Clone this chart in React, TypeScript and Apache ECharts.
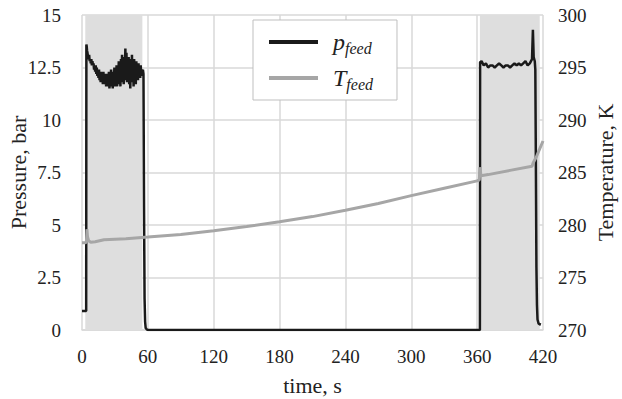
import React, { useEffect, useRef } from "react";
import * as echarts from "echarts";

// feed pressure (bar) as [time s, value] pairs, first feed step
const pressureFeed1: number[][] = [
  [0, 0.9], [3.8, 0.9], [4.0, 13.6], [4.3, 13.5], [4.6, 13.3],
  [5, 13.2], [5.5, 13.0], [6, 12.9], [6.5, 13.1], [7, 12.8], [7.5, 12.9], [8, 12.7], [8.5, 12.9],
  [9, 12.6], [9.5, 12.8], [10, 12.6], [10.5, 12.7], [11, 12.4], [11.5, 12.6], [12, 12.3], [12.5, 12.6],
  [13, 12.2], [13.5, 12.5], [14, 12.1], [14.5, 12.4], [15, 12.0], [15.5, 12.4], [16, 11.9], [16.5, 12.3],
  [17, 11.8], [17.5, 12.3], [18, 11.8], [18.5, 12.2], [19, 11.7], [19.5, 12.3], [20, 11.8], [20.5, 12.2],
  [21, 11.7], [21.5, 12.1], [22, 11.6], [22.5, 12.2], [23, 11.7], [23.5, 12.0], [24, 11.6], [24.5, 12.3],
  [25, 11.5], [25.5, 12.1], [26, 11.7], [26.5, 12.4], [27, 11.6], [27.5, 12.2], [28, 11.5], [28.5, 12.3],
  [29, 11.7], [29.5, 12.5], [30, 11.6], [30.5, 12.4], [31, 11.8], [31.5, 12.6], [32, 11.6], [32.5, 12.5],
  [33, 11.7], [33.5, 12.8], [34, 11.8], [34.5, 12.6], [35, 11.6], [35.5, 12.9], [36, 11.9], [36.5, 13.1],
  [37, 11.8], [37.5, 12.7], [38, 11.7], [38.5, 13.0], [39, 12.0], [39.5, 13.4], [40, 11.9], [40.5, 13.2],
  [41, 11.8], [41.5, 12.8], [42, 12.0], [42.5, 13.0], [43, 11.7], [43.5, 12.6], [44, 11.5], [44.5, 12.9],
  [45, 11.8], [45.5, 13.1], [46, 11.9], [46.5, 12.7], [47, 11.6], [47.5, 12.9], [48, 11.9], [48.5, 12.6],
  [49, 11.7], [49.5, 12.8], [50, 12.0], [50.5, 12.5], [51, 11.9], [51.5, 12.7], [52, 12.1], [52.5, 12.5],
  [53, 12.0], [53.5, 12.6], [54, 12.1], [54.5, 12.4], [55, 12.3], [55.5, 12.4], [56, 12.2],
];

// pressure drop and purge period
const pressurePurge: number[][] = [
  [56.5, 6.0], [57, 1.5], [57.5, 0.4], [58, 0.1], [59, 0.03], [60, 0], [362.5, 0],
];

// second feed step and depressurisation
const pressureFeed2: number[][] = [
  [362.7, 12.75], [364, 12.8], [366, 12.6], [368, 12.7], [370, 12.5], [372, 12.6], [374, 12.6],
  [376, 12.5], [378, 12.6], [380, 12.7], [382, 12.6], [384, 12.5], [386, 12.6], [388, 12.6],
  [390, 12.5], [392, 12.6], [394, 12.7], [396, 12.6], [398, 12.7], [400, 12.6], [402, 12.7],
  [404, 12.8], [406, 12.6], [408, 12.7], [410, 12.9], [410.8, 14.3], [411.5, 13.0], [412.5, 12.8],
  [413, 12.4], [413.5, 8.0], [414, 3.0], [414.5, 1.2], [415, 0.5], [416, 0.3], [418, 0.25],
];

// feed temperature (K)
const temperatureTime = [
  0, 3, 4, 4.5, 5, 6, 8, 12, 20, 40, 60, 90, 120, 150, 180, 210, 240, 270, 300,
  330, 360, 362, 362.5, 363.5, 370, 390, 410, 411, 414, 420,
];
const temperatureValues = [
  278.3, 278.3, 278.4, 279.6, 278.9, 278.5, 278.35, 278.4, 278.6, 278.7, 278.85,
  279.1, 279.45, 279.85, 280.3, 280.8, 281.4, 282.05, 282.8, 283.5, 284.2,
  284.3, 285.5, 284.7, 284.8, 285.2, 285.6, 285.9, 286.5, 288.0,
];

// shaded feed periods (s)
const feedPeriods = [
  [3, 55],
  [362.5, 417],
];

const FONT = "'Liberation Serif', 'Times New Roman', serif";
const TXT = "#222";

export default function App() {
  const ref = useRef<HTMLDivElement>(null);

  useEffect(() => {
    if (!ref.current) return;
    const chart = echarts.init(ref.current, undefined, { renderer: "svg" });
    const pData = [...pressureFeed1, ...pressurePurge, ...pressureFeed2];
    const tData = temperatureTime.map((t, i) => [t, temperatureValues[i]]);

    chart.setOption({
      animation: false,
      backgroundColor: "#fff",
      textStyle: { fontFamily: FONT, color: TXT },
      grid: { left: 82, right: 79, top: 15, bottom: 69, outerBoundsMode: "none", containLabel: false },
      legend: {
        orient: "vertical",
        left: 253,
        top: 20,
        padding: [10, 24, 8, 16],
        itemWidth: 49,
        itemHeight: 4,
        itemGap: 10,
        icon: "rect",
        backgroundColor: "#fff",
        borderColor: "#bfbfbf",
        borderWidth: 1,
        borderRadius: 0,
        data: ["p", "T"],
        formatter: (name: string) => `{m|${name}}{s|feed}`,
        textStyle: {
          fontFamily: FONT,
          color: TXT,
          padding: [0, 0, 0, 10],
          rich: {
            m: {
              fontFamily: FONT,
              fontStyle: "italic",
              fontSize: 24,
              color: TXT,
              lineHeight: 28,
            },
            s: {
              fontFamily: FONT,
              fontStyle: "italic",
              fontSize: 16,
              color: TXT,
              lineHeight: 16,
              verticalAlign: "bottom",
            },
          },
        },
      },
      xAxis: {
        type: "value",
        min: 0,
        max: 420,
        interval: 60,
        name: "time, s",
        nameLocation: "middle",
        nameGap: 44,
        nameMoveOverlap: false,
        nameTextStyle: { fontFamily: FONT, fontSize: 22, color: TXT },
        axisLine: { show: true, lineStyle: { color: "#d9d9d9", width: 1.5 } },
        axisTick: { show: false },
        axisLabel: { fontFamily: FONT, fontSize: 19, color: TXT, margin: 17 },
        splitLine: { show: true, lineStyle: { color: "#d9d9d9", width: 1.5 } },
      },
      yAxis: [
        {
          type: "value",
          min: 0,
          max: 15,
          interval: 2.5,
          name: "Pressure, bar",
          nameLocation: "middle",
          nameRotate: 90,
          nameGap: 53,
          nameMoveOverlap: false,
          nameTextStyle: { fontFamily: FONT, fontSize: 22, color: TXT },
          axisLine: { show: false },
          axisTick: { show: false },
          axisLabel: { fontFamily: FONT, fontSize: 19, color: TXT, margin: 21 },
          splitLine: { show: true, lineStyle: { color: "#d9d9d9", width: 1.5 } },
        },
        {
          type: "value",
          min: 270,
          max: 300,
          interval: 5,
          position: "right",
          name: "Temperature, K",
          nameLocation: "middle",
          nameRotate: 90,
          nameGap: 51,
          nameMoveOverlap: false,
          nameTextStyle: { fontFamily: FONT, fontSize: 22, color: TXT },
          axisLine: { show: false },
          axisTick: { show: false },
          axisLabel: { fontFamily: FONT, fontSize: 19, color: TXT, margin: 15 },
          splitLine: { show: false },
        },
      ],
      series: [
        {
          name: "p",
          type: "line",
          yAxisIndex: 0,
          data: pData,
          symbol: "none",
          color: "#1a1a1a",
          lineStyle: { color: "#1a1a1a", width: 2.5 },
          z: 2,
          markArea: {
            silent: true,
            itemStyle: { color: "#dedede" },
            data: feedPeriods.map(([a, b]) => [{ xAxis: a }, { xAxis: b }]),
          },
        },
        {
          name: "T",
          type: "line",
          yAxisIndex: 1,
          data: tData,
          symbol: "none",
          color: "#a6a6a6",
          lineStyle: { color: "#a6a6a6", width: 3 },
          z: 3,
        },
      ],
    });

    return () => chart.dispose();
  }, []);

  return <div ref={ref} style={{ width: 622, height: 399, position: "absolute", left: 0, top: 0 }} />;
}
